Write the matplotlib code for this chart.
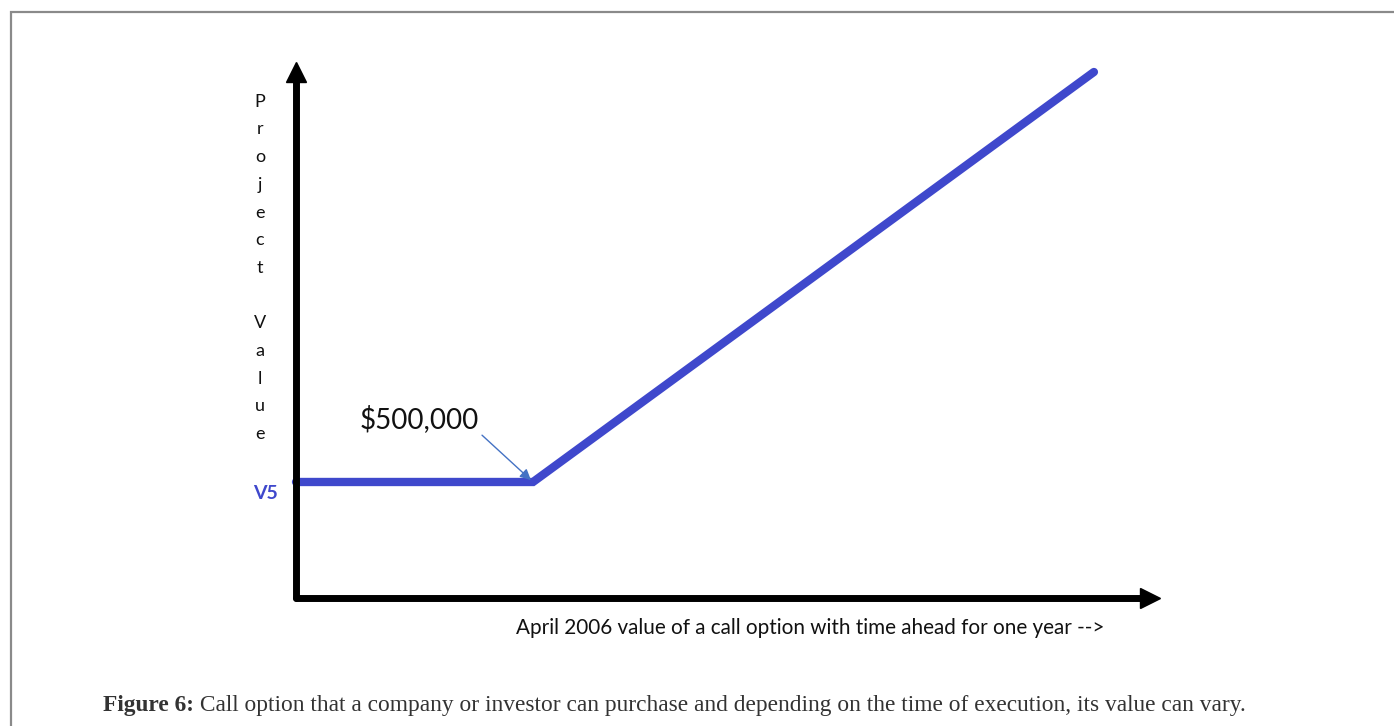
import matplotlib
matplotlib.use("Agg")
import matplotlib.pyplot as plt
from matplotlib.patches import Rectangle

# Data
x_time = [0, 3.0, 10.1]
y_value = [500000, 500000, 2267000]
kink_label = "$500,000"
level_label = "V5"
y_title = "Project Value"
x_title = "April 2006 value of a call option with time ahead for one year -->"
caption_bold = "Figure 6:"
caption_text = (" Call option that a company or investor can purchase and depending "
                "on the time of execution, its value can vary.")

W, H = 1394, 726
blue = "#3F48CC"

fig = plt.figure(figsize=(W / 100, H / 100), dpi=100)
fig.patch.set_facecolor("white")

# page frame
fig.add_artist(Rectangle((11 / W, -0.1), 1.2, (H - 12) / H + 0.1, transform=fig.transFigure,
                         fill=False, edgecolor="#8a8a8a", linewidth=1.6))

ox, oy = 296, 598
ax = fig.add_axes([ox / W, (H - oy) / H, (1150 - ox) / W, (oy - 72) / H])
ax.set_xlim(0, 10.81)
ax.set_ylim(0, 2267000)
for s in ["top", "right"]:
    ax.spines[s].set_visible(False)
for s in ["left", "bottom"]:
    ax.spines[s].set_linewidth(5)
    ax.spines[s].set_color("black")
    ax.spines[s].set_capstyle("round")
ax.set_xticks([])
ax.set_yticks([])
ax.patch.set_alpha(0)

# axis arrowheads
ax.plot([0], [2267000], marker="^", markersize=15, color="black", clip_on=False)
ax.plot([10.81], [0], marker=">", markersize=15, color="black", clip_on=False)

ax.plot(x_time, y_value, color=blue, linewidth=6, solid_capstyle="round",
        solid_joinstyle="miter", clip_on=False)

ax.annotate(kink_label, xy=(x_time[1], y_value[1]), xytext=(0.81, 773000),
            fontsize=20, family="Lato", color="#111111", va="center", ha="left",
            arrowprops=dict(arrowstyle="-|>", color="#4472C4", lw=1,
                            shrinkA=0, shrinkB=2, mutation_scale=16,
                            relpos=(1.0, 0.0)))

ax.text(-0.39, y_value[0] - 48000, level_label, color=blue, fontsize=14,
        fontweight="bold", family="Lato", ha="center", va="center")

letters = "\n".join(c if c != " " else "" for c in y_title)
fig.text(260 / W, 1 - 268 / H, letters, fontsize=13, family="Lato", color="#111111",
         ha="center", va="center", linespacing=1.9)

fig.text(810 / W, 1 - 628 / H, x_title, fontsize=14.9, family="Lato", color="#111111",
         ha="center", va="center")

t1 = fig.text(103 / W, 1 - 705 / H, caption_bold, fontsize=16.8, family="Liberation Serif",
              fontweight="bold", color="#333333", ha="left", va="center")
fig.canvas.draw()
bb = t1.get_window_extent()
fig.text(bb.x1 / W, 1 - 705 / H, caption_text, fontsize=16.8, family="Liberation Serif",
         color="#333333", ha="left", va="center")

fig.savefig("out.png", dpi=100)
